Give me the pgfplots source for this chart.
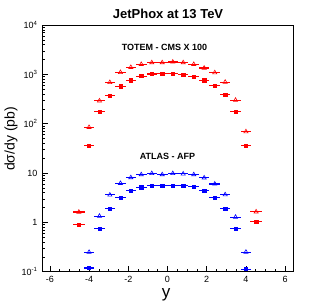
\documentclass[border=0pt]{standalone}
\usepackage{fontspec}
\setmainfont{Liberation Sans}
\usepackage{pgfplots}
\pgfplotsset{compat=1.18}
\begin{document}
\begin{tikzpicture}[x=1pt,y=1pt]
\useasboundingbox (0,0) rectangle (315,307);
\begin{axis}[
  at={(42pt,35.3pt)}, anchor=south west,
  scale only axis, width=251pt, height=246.7pt,
  ymode=log, xmin=-6.4, xmax=6.4, ymin=0.1, ymax=10000,
  xtick={-6,-4,-2,0,2,4,6},
  xticklabels={-6,-4,-2,0,2,4,6},
  minor x tick num=3,
  ytick={0.1,1,10,100,1000,10000},
  yticklabels={10\textsuperscript{-1},1,10,10\textsuperscript{2},10\textsuperscript{3},10\textsuperscript{4}},
  tick pos=left, tick align=inside,
  major tick length=6pt, minor tick length=3pt,
  every tick/.style={black, line width=0.5pt},
  axis line style={line width=0.8pt},
  tick label style={font=\fontsize{9}{10}\selectfont},
  yticklabel style={xshift=-1pt},
  xticklabel style={yshift=-1pt},
  /pgf/number format/assume math mode=true,
  clip=false,
  error bars/error bar style={line width=1.1pt},
]
% TOTEM - CMS x 100, filled
\addplot[only marks, red, mark=square*, mark size=1.6pt,
  error bars/.cd, x dir=both, x explicit, error mark=none]
coordinates {
(-4.52,0.91) +- (0.29,0)
(-4.0,35.8) +- (0.27,0)
(-3.47,178) +- (0.27,0)
(-2.94,372) +- (0.27,0)
(-2.4,575) +- (0.27,0)
(-1.87,760) +- (0.27,0)
(-1.34,922) +- (0.27,0)
(-0.8,1014) +- (0.27,0)
(-0.27,1047) +- (0.27,0)
(0.27,1047) +- (0.27,0)
(0.8,1000) +- (0.27,0)
(1.34,910) +- (0.27,0)
(1.87,760) +- (0.27,0)
(2.41,597) +- (0.27,0)
(2.94,386) +- (0.27,0)
(3.47,178) +- (0.27,0)
(4.0,35.6) +- (0.27,0)
(4.52,1.05) +- (0.29,0)
};
% TOTEM - CMS x 100, open
\addplot[only marks, red, mark=triangle, mark size=2.4pt, mark options={line width=0.6pt},
  error bars/.cd, x dir=both, x explicit, error mark=none]
coordinates {
(-4.52,1.62) +- (0.29,0)
(-4.0,84.5) +- (0.27,0)
(-3.47,291) +- (0.27,0)
(-2.94,687) +- (0.27,0)
(-2.4,1097) +- (0.27,0)
(-1.87,1390) +- (0.27,0)
(-1.34,1600) +- (0.27,0)
(-0.8,1730) +- (0.27,0)
(-0.27,1730) +- (0.27,0)
(0.27,1780) +- (0.27,0)
(0.8,1730) +- (0.27,0)
(1.34,1600) +- (0.27,0)
(1.87,1343) +- (0.27,0)
(2.41,1083) +- (0.27,0)
(2.94,697) +- (0.27,0)
(3.47,300) +- (0.27,0)
(4.0,69) +- (0.27,0)
(4.52,1.64) +- (0.29,0)
};
% ATLAS - AFP, open
\addplot[only marks, blue, mark=triangle, mark size=2.4pt, mark options={line width=0.6pt},
  error bars/.cd, x dir=both, x explicit, error mark=none]
coordinates {
(-4.0,0.248) +- (0.27,0)
(-3.47,1.34) +- (0.27,0)
(-2.94,3.6) +- (0.27,0)
(-2.4,6.2) +- (0.27,0)
(-1.87,8.1) +- (0.27,0)
(-1.34,9.3) +- (0.27,0)
(-0.8,9.8) +- (0.27,0)
(-0.27,9.3) +- (0.27,0)
(0.27,9.8) +- (0.27,0)
(0.8,9.6) +- (0.27,0)
(1.34,9.3) +- (0.27,0)
(1.87,8.0) +- (0.27,0)
(2.41,6.0) +- (0.27,0)
(2.94,3.65) +- (0.27,0)
(3.47,1.28) +- (0.27,0)
(4.0,0.25) +- (0.27,0)
};
% ATLAS - AFP, filled
\addplot[only marks, blue, mark=square*, mark size=1.6pt,
  error bars/.cd, x dir=both, x explicit, error mark=none]
coordinates {
(-4.0,0.119) +- (0.27,0)
(-3.47,0.74) +- (0.27,0)
(-2.94,1.87) +- (0.27,0)
(-2.4,3.17) +- (0.27,0)
(-1.87,4.4) +- (0.27,0)
(-1.34,5.16) +- (0.27,0)
(-0.8,5.5) +- (0.27,0)
(-0.27,5.56) +- (0.27,0)
(0.27,5.6) +- (0.27,0)
(0.8,5.56) +- (0.27,0)
(1.34,5.24) +- (0.27,0)
(1.87,4.4) +- (0.27,0)
(2.41,3.17) +- (0.27,0)
(2.94,1.89) +- (0.27,0)
(3.47,0.755) +- (0.27,0)
(4.0,0.113) +- (0.27,0)
};
\node[font=\bfseries\fontsize{9}{10}\selectfont] at (axis cs:-0.15,3550) {TOTEM - CMS X 100};
\node[font=\bfseries\fontsize{9}{10}\selectfont] at (axis cs:0.0,21.4) {ATLAS - AFP};
\end{axis}
\node[font=\bfseries\fontsize{13}{15}\selectfont] at (168,293) {JetPhox at 13 TeV};
\node[rotate=90, font=\fontsize{14}{16}\selectfont] at (11,168) {dσ/dy (pb)};
\node[font=\fontsize{17}{19}\selectfont] at (166,12) {y};
\end{tikzpicture}
\end{document}
